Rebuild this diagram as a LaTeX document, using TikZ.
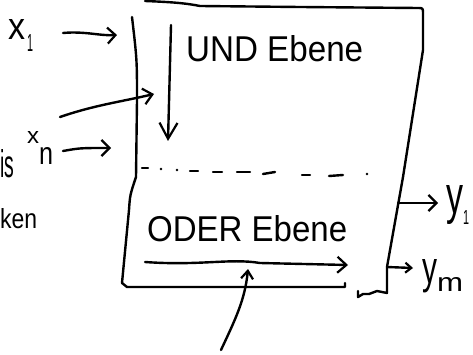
\documentclass[tikz,border=0pt]{standalone}
\usepackage{graphicx}
\usepackage{fontspec}
\setmainfont{Liberation Sans}
\usetikzlibrary{arrows.meta}
\begin{document}
\begin{tikzpicture}[x=1pt,y=-1pt,
  pen/.style={line width=2.4pt,line cap=round,line join=round},
  barb/.style={-{Straight Barb[length=#1,width=16pt,line width=2.2pt]}},
  lbl/.style={inner sep=0pt,anchor=base west}]
\useasboundingbox (0,0) rectangle (473,355);
\clip (0,0) rectangle (473,355);
% box outline
\draw[pen] (145,1) .. controls (170,2) and (185,3) .. (200,6) -- (300,7) -- (418,8)
  .. controls (423,8) .. (423,14) -- (423,50) -- (403,177) -- (387,267) -- (387,293)
  -- (377,291) -- (369,294) -- (363,294) -- (358,297) -- (358,291);
\draw[pen] (132,17) .. controls (137,60) .. (137,100) -- (136,177) .. controls (130,195) .. (129,210)
  -- (124,262) -- (122,283) -- (127,287) -- (230,287) -- (345,287) -- (345,283);
% coordinates
\coordinate (x1s) at (63,33);   \coordinate (x1e) at (117,35);
\coordinate (ls) at (60,117);   \coordinate (le) at (154,94);
\coordinate (xns) at (63,151);  \coordinate (xne) at (111,148);
\coordinate (ds) at (171,25);   \coordinate (de) at (168,141);
\coordinate (os) at (145,262);  \coordinate (oe) at (348,265);
\coordinate (us) at (221,350);  \coordinate (ue) at (248,269);
\coordinate (y1s) at (398,203); \coordinate (y1e) at (438,203);
\coordinate (yms) at (387,267); \coordinate (yme) at (413,268);
% texts
\node[lbl] (und) at (186,62) {\resizebox{177pt}{26pt}{\fontsize{33}{33}\selectfont UND Ebene}};
\node[lbl] (oder) at (147,241) {\resizebox{200pt}{26pt}{\fontsize{33}{33}\selectfont ODER Ebene}};
\node[lbl] (x1) at (8,40) {\resizebox{17pt}{20pt}{x}\hspace{2pt}\raisebox{-12pt}{\resizebox{6pt}{17pt}{1}}};
\node[lbl] (xn) at (27,147) {\raisebox{3pt}{\resizebox{12pt}{12pt}{x}}\raisebox{-18pt}{\resizebox{14pt}{17pt}{n}}};
\node[lbl] (y1) at (446,213) {\resizebox{17pt}{28pt}{y}\raisebox{-12pt}{\resizebox{6pt}{14pt}{1}}};
\node[lbl] (ym) at (422,283) {\resizebox{15pt}{24pt}{y}\raisebox{-8pt}{\resizebox{26pt}{14pt}{m}}};
\node[lbl] (frag1) at (0,178) {\resizebox{14pt}{28pt}{is}};
\node[lbl] (frag2) at (0,229) {\resizebox{37pt}{20pt}{ken}};
% arrows
\draw[pen,barb=8pt] (x1s) .. controls (85,31) and (100,36) .. (x1e);
\draw[pen,barb=9pt] (ls) .. controls (95,105) and (120,102) .. (le);
\draw[pen,barb=8pt] (xns) .. controls (80,148) .. (xne);
\draw[pen,-{Straight Barb[length=16pt,width=18pt,line width=2.2pt]}] (ds) -- (de);
\draw[pen,barb=9pt] (os) .. controls (200,266) and (230,258) .. (260,263) -- (oe);
\draw[pen,-{Straight Barb[length=8pt,width=12pt,line width=2.2pt]}] (us) .. controls (235,320) and (245,300) .. (ue);
\draw[pen,barb=8pt] (y1s) -- (y1e);
\draw[pen,-{Straight Barb[length=6pt,width=10pt,line width=2.2pt]}] (yms) -- (yme);
% dashed separator
\draw[pen] (142,168) -- (148,168);
\fill (161,169) circle (1.3pt);
\fill (177,170) circle (1.3pt);
\draw[pen] (190,171) -- (198,171);
\draw[pen] (213,172) -- (222,172);
\draw[pen] (237,172) -- (250,172);
\draw[pen] (263,174) -- (275,172);
\draw[pen] (302,175) -- (310,175);
\draw[pen] (329,176) -- (343,175);
\fill (367,174) circle (1.3pt);
\end{tikzpicture}
\end{document}
